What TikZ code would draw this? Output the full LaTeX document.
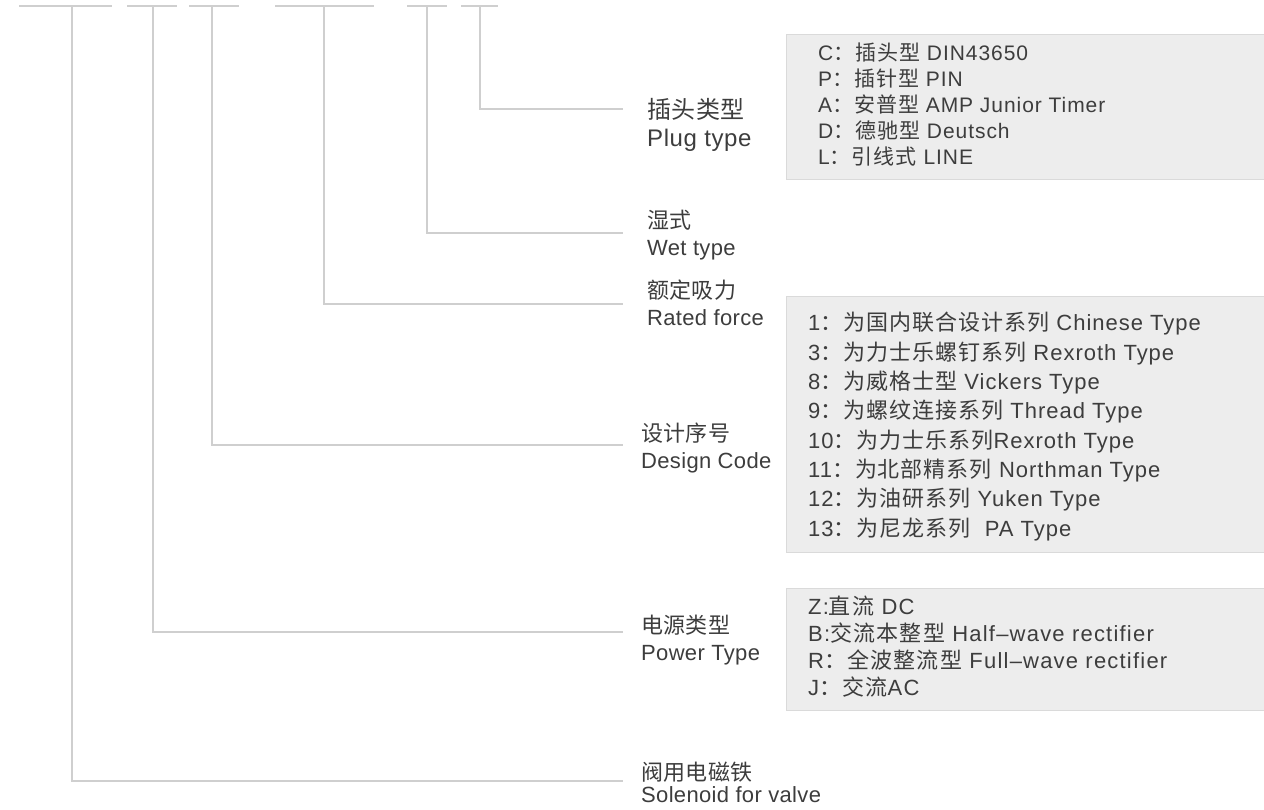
\documentclass[tikz,border=0pt]{standalone}
\usepackage{fontspec}
\setmainfont{Liberation Sans}
\newfontfamily\labfont[LetterSpace=1.5]{Liberation Sans}
\newfontfamily\labzh[LetterSpace=1.5]{Noto Sans CJK SC}
\newfontfamily\plugfont[LetterSpace=2.5]{Liberation Sans}
\newfontfamily\plugzh[LetterSpace=2.5]{Noto Sans CJK SC}
\newfontfamily\boxfont[LetterSpace=4.5]{Liberation Sans}
\newfontfamily\boxzh[LetterSpace=4.5]{Noto Sans CJK SC}
\newfontfamily\boxfontw[LetterSpace=5.5]{Liberation Sans}
\newfontfamily\boxzhw[LetterSpace=5.5]{Noto Sans CJK SC}
\let\curzh\relax
\newcommand\zh[1]{{\curzh #1}}
\definecolor{linegray}{HTML}{CFCFCF}
\definecolor{boxfill}{HTML}{EDEDED}
\definecolor{boxborder}{HTML}{DADADA}
\definecolor{txt}{HTML}{3D3D3D}
\tikzset{
  bar/.style={draw=linegray, line width=2pt},
  conn/.style={draw=linegray, line width=2pt},
  lab/.style={anchor=base west, inner sep=0pt, align=left, text=txt,
    font=\labfont\let\curzh\labzh\fontsize{22}{26.5}\selectfont},
  optbox/.style={draw=boxborder, fill=boxfill, line width=1pt, anchor=north west, inner sep=0pt},
  opttext/.style={anchor=base west, inner sep=0pt, align=left, text=txt},
}
\begin{document}
\begin{tikzpicture}[x=1pt,y=-1pt]
\useasboundingbox (0,0) rectangle (1264,809);
\clip (0,0) rectangle (1264,809);
% top code bars
\coordinate (b1l) at (19,6);  \coordinate (b1r) at (112,6); \coordinate (b1m) at (72,6);
\coordinate (b2l) at (127,6); \coordinate (b2r) at (177,6); \coordinate (b2m) at (153,6);
\coordinate (b3l) at (189,6); \coordinate (b3r) at (239,6); \coordinate (b3m) at (212,6);
\coordinate (b4l) at (275,6); \coordinate (b4r) at (374,6); \coordinate (b4m) at (324,6);
\coordinate (b5l) at (407,6); \coordinate (b5r) at (447,6); \coordinate (b5m) at (427,6);
\coordinate (b6l) at (461,6); \coordinate (b6r) at (498,6); \coordinate (b6m) at (480,6);
\foreach \i in {1,...,6} { \draw[bar] (b\i l) -- (b\i r); }
% connector ends
\coordinate (e6) at (623,109);
\coordinate (e5) at (623,233);
\coordinate (e4) at (623,304);
\coordinate (e3) at (623,445);
\coordinate (e2) at (623,632);
\coordinate (e1) at (623,781);
\foreach \i in {1,...,6} { \draw[conn] (b\i m) |- (e\i); }
% labels (anchor = baseline of the last line)
\node[lab, font=\plugfont\let\curzh\plugzh\fontsize{24}{27.5}\selectfont] (plug) at (647,146) {\zh{插头类型}\\Plug type};
\node[lab] (wet) at (647,255) {\zh{湿式}\\Wet type};
\node[lab] (rated) at (647,325) {\zh{额定吸力}\\Rated force};
\node[lab] (design) at (641,468) {\zh{设计序号}\\Design Code};
\node[lab] (power) at (641,660) {\zh{电源类型}\\Power Type};
\node[lab, font=\labfont\let\curzh\labzh\fontsize{22}{22}\selectfont] (sol) at (641,802) {\zh{阀用电磁铁}\\Solenoid for valve};
% option boxes
\node[optbox, minimum width=490pt, minimum height=145pt] (box1) at (786,34) {};
\node[opttext, font=\boxfont\let\curzh\boxzh\fontsize{21}{25.8}\selectfont] (t1) at (818,164)
 {C\zh{：插头型} DIN43650\\P\zh{：插针型} PIN\\A\zh{：安普型} AMP Junior Timer\\D\zh{：德驰型} Deutsch\\L\zh{：引线式} LINE};
\node[optbox, minimum width=490pt, minimum height=256pt] (box2) at (786,296) {};
\node[opttext, font=\boxfont\let\curzh\boxzh\fontsize{22}{29.3}\selectfont] (t2) at (808,536)
 {1\zh{：为国内联合设计系列} Chinese Type\\
  3\zh{：为力士乐螺钉系列} Rexroth Type\\
  8\zh{：为威格士型} Vickers Type\\
  9\zh{：为螺纹连接系列} Thread Type\\
  10\zh{：为力士乐系列}Rexroth Type\\
  11\zh{：为北部精系列} Northman Type\\
  12\zh{：为油研系列} Yuken Type\\
  13\zh{：为尼龙系列}\ \ PA Type};
\node[optbox, minimum width=490pt, minimum height=122pt] (box3) at (786,588) {};
\node[opttext, font=\boxfontw\let\curzh\boxzhw\fontsize{22}{26.7}\selectfont] (t3) at (808,695)
 {Z:\zh{直流} DC\\B:\zh{交流本整型} Half–wave rectifier\\R\zh{：全波整流型} Full–wave rectifier\\J\zh{：交流}AC};
\end{tikzpicture}
\end{document}
